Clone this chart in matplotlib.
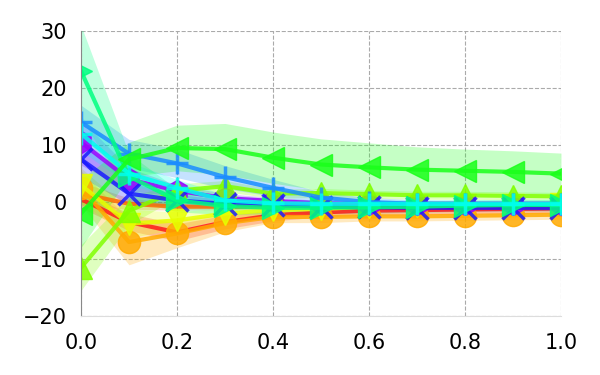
import matplotlib
matplotlib.use("Agg")
import matplotlib.pyplot as plt
import numpy as np

x = [0.0, 0.1, 0.2, 0.3, 0.4, 0.5, 0.6, 0.7, 0.8, 0.9, 1.0]

red_mean = [0.5, -3.5, -5.3, -3.5, -2.3, -1.8, -1.5, -1.4, -1.3, -1.2, -1.1]
red_err = [1.5, 1.5, 1.5, 1.2, 1.0, 0.8, 0.8, 0.8, 0.8, 0.8, 0.8]
orangered_mean = [1.5, -0.3, -0.8, -0.8, -0.8, -0.7, -0.6, -0.6, -0.6, -0.5, -0.5]
orangered_err = [2.0, 1.0, 0.6, 0.5, 0.5, 0.5, 0.5, 0.5, 0.5, 0.5, 0.5]
orange_mean = [2.5, -7.0, -5.5, -3.7, -2.6, -2.6, -2.5, -2.5, -2.4, -2.3, -2.2]
orange_err = [3.0, 4.0, 2.5, 1.5, 1.0, 1.0, 0.8, 0.8, 0.8, 0.8, 0.8]
yellow_mean = [3.0, -3.8, -3.2, -2.0, -1.4, -1.2, -0.8, -0.6, -0.5, -0.5, -0.4]
yellow_err = [3.0, 2.5, 1.5, 1.0, 0.8, 0.8, 0.7, 0.7, 0.7, 0.7, 0.7]
chart_mean = [-11.5, -1.5, 2.0, 2.8, 1.5, 1.6, 1.4, 1.2, 1.2, 1.1, 1.0]
chart_err = [4.0, 2.5, 1.2, 1.0, 0.8, 0.8, 0.7, 0.7, 0.7, 0.7, 0.7]
green_mean = [-2.0, 7.5, 9.5, 9.3, 7.8, 6.6, 6.1, 5.7, 5.5, 5.3, 5.0]
green_err = [6.0, 3.0, 4.0, 4.5, 4.5, 4.5, 4.3, 4.0, 3.8, 3.7, 3.6]
spring_mean = [23.0, 4.5, 0.3, -0.7, -1.0, -1.0, -0.9, -0.8, -0.6, -0.5, -0.5]
spring_err = [8.0, 4.0, 2.0, 1.5, 1.0, 1.0, 1.0, 1.0, 1.0, 1.0, 1.0]
cyan_mean = [12.0, 5.0, 2.5, 0.3, -0.2, -0.3, -0.3, -0.3, -0.3, -0.3, -0.3]
cyan_err = [3.0, 2.0, 1.5, 1.0, 0.8, 0.7, 0.7, 0.7, 0.7, 0.7, 0.7]
azure_mean = [14.0, 8.5, 6.8, 4.4, 2.5, 0.8, 0.0, -0.3, -0.4, -0.4, -0.4]
azure_err = [3.0, 2.5, 2.5, 2.0, 1.5, 1.0, 0.8, 0.7, 0.7, 0.7, 0.7]
blue_mean = [7.5, 1.5, 0.3, -0.3, -0.5, -0.8, -0.9, -1.0, -1.0, -1.0, -1.0]
blue_err = [3.0, 2.0, 1.0, 0.8, 0.6, 0.5, 0.5, 0.5, 0.5, 0.5, 0.5]
violet_mean = [10.5, 4.0, 2.0, 0.7, 0.2, -0.2, -0.3, -0.3, -0.3, -0.3, -0.3]
violet_err = [4.0, 2.0, 1.0, 0.8, 0.6, 0.5, 0.5, 0.5, 0.5, 0.5, 0.5]

series = [
    (red_mean, red_err, "#ff1a1a", None),
    (orangered_mean, orangered_err, "#ff6a00", None),
    (orange_mean, orange_err, "#ffaa00", "o"),
    (yellow_mean, yellow_err, "#e6ff00", "v"),
    (violet_mean, violet_err, "#9a00ff", "h"),
    (chart_mean, chart_err, "#80ff00", "^"),
    (blue_mean, blue_err, "#1a1aff", "x"),
    (azure_mean, azure_err, "#1a8cff", "+"),
    (spring_mean, spring_err, "#00ff80", ">"),
    (cyan_mean, cyan_err, "#00ffee", "+"),
    (green_mean, green_err, "#1aff1a", "<"),
]

fig = plt.figure(figsize=(6, 3.75), dpi=100)
ax = fig.add_axes([0.135, 0.157, 0.8, 0.76])

for mean, err, color, marker in series:
    m = np.array(mean)
    e = np.array(err)
    ax.fill_between(x, m - e, m + e, color=color, alpha=0.25, linewidth=0)
    ax.plot(x, m, color=color, linewidth=3, marker=marker, markersize=16,
            markeredgewidth=2.5 if marker in ("x", "+") else 1,
            alpha=0.85)

ax.set_xlim(0, 1)
ax.set_ylim(-20, 30)
ax.set_xticks([0.0, 0.2, 0.4, 0.6, 0.8, 1.0])
ax.set_yticks([-20, -10, 0, 10, 20, 30])
ax.tick_params(labelsize=15, length=0)
ax.tick_params(axis="x", pad=12)
ax.tick_params(axis="y", pad=10)
ax.grid(True, linestyle="--", color="#aaaaaa", linewidth=0.8)
for s in ("top", "right"):
    ax.spines[s].set_visible(False)
ax.spines["left"].set_color("#888888")
ax.spines["bottom"].set_color("#dddddd")
ax.set_axisbelow(True)

fig.savefig("out.png", dpi=100)
